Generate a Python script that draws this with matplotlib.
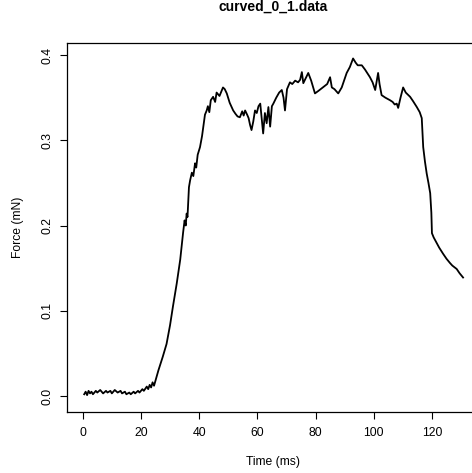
import matplotlib
matplotlib.use("Agg")
import matplotlib.pyplot as plt

# force trace (ms, mN)
time_ms = [0.5, 1.0, 1.5, 2.0, 2.5, 3.0, 3.5, 4.5, 5.0, 6.0, 7.0, 8.0, 8.5, 9.5,
           10.0, 11.0, 12.0, 13.0, 13.5, 14.5, 15.0, 16.0, 16.5, 17.5, 18.0,
           19.0, 19.5, 20.5, 21.0, 22.0, 22.5, 23.0, 23.5, 24.0, 24.5,
           26.0, 27.5, 28.8, 30.0, 31.0, 32.3, 33.5, 34.5, 35.0, 35.4, 35.7,
           36.0, 36.5, 36.9, 37.5, 38.0, 38.6, 39.0, 39.5, 40.3, 41.0, 41.5,
           42.0, 42.6, 43.0, 43.5, 44.0, 44.8, 45.5, 46.0, 47.0, 48.2, 48.8,
           49.5, 50.5, 51.7, 52.5, 53.2, 54.0, 54.8, 55.3, 55.8, 56.5, 57.0,
           57.5, 58.0, 58.6, 59.2, 59.8, 60.4, 61.0, 61.5, 62.0, 62.6, 63.2,
           63.8, 64.4, 65.0, 65.5, 66.5, 67.5, 68.4, 69.0, 69.5, 70.2, 71.2,
           72.0, 73.0, 74.0, 74.7, 75.3, 75.8, 76.5, 77.5, 78.5, 79.8, 81.0,
           82.5, 84.0, 85.0, 85.6, 86.5, 87.8, 89.0, 90.7, 91.8, 92.9, 93.8,
           94.5, 95.9, 97.0, 98.7, 99.6, 100.5, 101.5, 102.0, 102.7, 104.0,
           105.6, 106.5, 107.2, 107.9, 108.4, 109.2, 110.1, 111.0, 112.5,
           113.5, 114.8, 115.8, 116.5, 117.0, 117.6, 118.2, 118.8, 119.4,
           119.8, 120.0, 120.6, 121.7, 122.5, 123.8, 125.0, 126.2, 127.0,
           128.5, 129.5, 130.7]
force_mn = [0.002, 0.005, 0.001, 0.006, 0.003, 0.005, 0.002, 0.006, 0.004,
            0.007, 0.003, 0.006, 0.004, 0.006, 0.003, 0.007, 0.004, 0.006,
            0.003, 0.005, 0.002, 0.004, 0.002, 0.005, 0.003, 0.006, 0.004,
            0.008, 0.006, 0.011, 0.008, 0.013, 0.010, 0.016, 0.012,
            0.030, 0.046, 0.061, 0.083, 0.105, 0.132, 0.160, 0.192, 0.206,
            0.200, 0.214, 0.210, 0.245, 0.253, 0.262, 0.258, 0.273, 0.268,
            0.283, 0.292, 0.305, 0.318, 0.330, 0.335, 0.340, 0.333, 0.347,
            0.351, 0.345, 0.356, 0.352, 0.362, 0.360, 0.355, 0.344, 0.335,
            0.331, 0.328, 0.327, 0.334, 0.329, 0.335, 0.330, 0.326, 0.318,
            0.312, 0.322, 0.335, 0.332, 0.340, 0.343, 0.325, 0.308, 0.332,
            0.320, 0.339, 0.316, 0.340, 0.343, 0.350, 0.356, 0.359, 0.350,
            0.335, 0.360, 0.368, 0.366, 0.370, 0.368, 0.371, 0.380, 0.367,
            0.372, 0.379, 0.370, 0.355, 0.358, 0.362, 0.366, 0.374, 0.362,
            0.360, 0.355, 0.362, 0.379, 0.386, 0.396, 0.391, 0.388, 0.388,
            0.383, 0.374, 0.368, 0.359, 0.379, 0.366, 0.353, 0.350, 0.347,
            0.345, 0.342, 0.343, 0.338, 0.350, 0.362, 0.356, 0.351, 0.346,
            0.339, 0.333, 0.326, 0.292, 0.275, 0.261, 0.250, 0.238, 0.215,
            0.191, 0.186, 0.179, 0.174, 0.167, 0.161, 0.156, 0.153, 0.149,
            0.144, 0.139]

x_ticks = [0, 20, 40, 60, 80, 100, 120]
y_ticks = [0.0, 0.1, 0.2, 0.3, 0.4]
y_tick_labels = ["0.0", "0.1", "0.2", "0.3", "0.4"]

plt.rcParams["font.family"] = ["Liberation Sans", "DejaVu Sans"]

fig = plt.figure(figsize=(4.72, 4.73), dpi=100)
ax = fig.add_axes([0.142, 0.129, 0.873, 0.780])

ax.plot(time_ms, force_mn, color="black", lw=1.3)

ax.set_xlim(-5.4, 136.2)
ax.set_ylim(-0.0188, 0.4141)
ax.set_xticks(x_ticks)
ax.set_xticklabels([str(t) for t in x_ticks])
ax.set_yticks(y_ticks)
ax.set_yticklabels(y_tick_labels, rotation=90, va="center")
ax.tick_params(axis="both", direction="out", length=5, width=0.8,
               labelsize=8.8, color="black")
ax.tick_params(axis="x", pad=6)
ax.tick_params(axis="y", pad=4.5)
for s in ax.spines.values():
    s.set_linewidth(0.9)

ax.set_xlabel("Time (ms)", fontsize=8.7)
ax.xaxis.set_label_coords(0.5, -0.1355)
ax.xaxis.label.set_va("center")
ax.set_ylabel("Force (mN)", fontsize=8.7)
ax.yaxis.set_label_coords(-0.119, 0.5)
ax.yaxis.label.set_va("center")

ax.set_title("curved_0_1.data", fontsize=10, fontweight="bold", y=1.076, va="center")

fig.savefig("out.png", dpi=100)
